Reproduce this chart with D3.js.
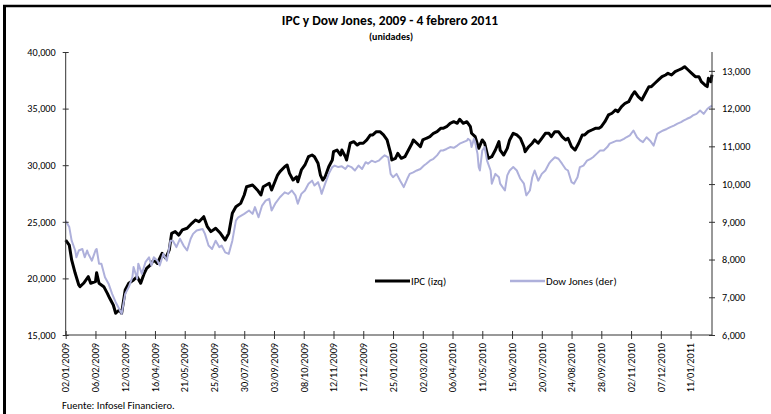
<!DOCTYPE html>
<html>
<head>
<meta charset="utf-8">
<script src="https://cdn.jsdelivr.net/npm/d3@7"></script>
<style>
  html, body { margin: 0; padding: 0; background: #fff; }
  svg { display: block; }
  text { font-family: Calibri, Carlito, Lato, "Liberation Sans", sans-serif; fill: #000; }
</style>
</head>
<body>
<svg id="chart" width="771" height="414"></svg>
<script>
// ---------- data ----------
const title = "IPC y Dow Jones, 2009 - 4 febrero 2011";
const subtitle = "(unidades)";
const source = "Fuente:  Infosel Financiero.";
const seriesNames = ["IPC (izq)", "Dow Jones (der)"];

// category (trading-day) labels, one every 25 trading days
const xLabels = ["02/01/2009","06/02/2009","12/03/2009","16/04/2009","21/05/2009","25/06/2009",
  "30/07/2009","03/09/2009","08/10/2009","12/11/2009","17/12/2009","25/01/2010","02/03/2010",
  "06/04/2010","11/05/2010","15/06/2010","20/07/2010","24/08/2010","28/09/2010","02/11/2010",
  "07/12/2010","11/01/2011"];
const labelStep = 25;      // trading days between labels
const nDays = 544;         // trading days 02/01/2009 - 04/02/2011

const leftTicks = [15000, 20000, 25000, 30000, 35000, 40000];
const rightTicks = [6000, 7000, 8000, 9000, 10000, 11000, 12000, 13000];
const leftDomain = [15000, 40000];
const rightDomain = [6000, 13500];

// IPC readings: trading-day number and value
const ipcDays = [0,3,5,8,11,12,15,19,21,25,26,28,32,35,37,40,42,45,47,50,
  53,57,60,63,66,68,71,74,77,81,84,87,89,92,95,98,102,106,109,112,
  116,119,122,126,130,134,137,140,143,147,150,152,157,161,164,166,171,173,178,180,
  184,186,188,191,194,195,198,201,204,207,209,212,214,216,218,221,224,225,228,231,
  232,235,236,239,242,245,247,250,253,256,258,261,264,267,270,273,274,277,279,282,
  285,288,291,292,295,298,300,303,306,309,312,315,317,320,323,326,329,331,334,337,
  340,341,344,347,350,352,355,358,361,364,365,368,371,373,376,379,382,385,386,389,
  392,394,397,400,403,406,408,411,414,417,420,422,425,428,431,434,436,439,442,445,
  448,450,453,456,459,462,464,467,470,473,476,478,481,484,487,490,492,495,498,501,
  504,506,509,512,515,518,520,523,526,529,532,534,537,539,540,542,543];
const ipcValues = [23390,22950,21630,20450,19420,19270,19570,20150,19570,19710,20500,19570,19270,18680,18240,17650,16920,17210,16920,18980,
  19570,19860,20150,19570,20450,20890,21180,21630,21330,22220,21780,22510,23980,24130,23830,24280,24430,24870,25160,25010,
  25450,24570,24130,24430,23980,23390,23980,25750,26330,26630,27370,28100,28250,27810,27370,28100,28400,27810,29130,29430,
  29870,30020,29280,28690,28980,28540,29580,30020,30750,30900,30750,30170,29130,28690,28980,29870,30460,31190,31340,30900,
  31340,30750,30460,31940,32080,31780,31940,31940,32230,32670,32670,32960,32960,32670,32230,31050,30460,30610,31050,30610,
  30750,31340,31940,32230,31940,31630,32230,32380,32520,32820,32960,33260,33260,33400,33700,33840,33700,34060,33700,33840,
  33400,32820,32520,31490,32230,31940,30610,30750,31340,32080,31340,30900,31490,32230,32820,32670,32380,31630,31190,31630,
  31940,32230,31940,32380,32820,32820,32520,32960,32960,32520,32230,32380,31630,31340,31940,32670,32670,32960,33110,33260,
  33260,33400,33840,34440,34590,34880,34730,35170,35470,35610,36200,36490,36050,35760,36350,36940,36940,37240,37530,37820,
  37970,38120,37970,38260,38410,38560,38700,38410,38120,37820,37820,37380,37090,36940,37680,37380,38000];

// Dow Jones readings: trading-day number and value
const dowDays = [0,3,5,8,9,11,14,16,18,19,22,25,26,28,30,33,36,39,42,45,
  47,50,53,56,57,60,61,64,67,70,72,74,77,79,82,85,88,90,93,96,
  99,102,105,107,110,115,117,120,123,126,129,131,134,137,140,143,145,150,154,157,
  159,162,165,168,171,173,176,180,184,187,190,193,195,198,201,204,207,209,212,214,
  215,218,221,224,226,229,232,235,237,240,243,246,249,252,254,257,260,263,266,268,
  271,273,275,278,281,284,287,289,292,295,298,301,303,306,309,312,315,317,320,323,
  326,329,331,334,337,338,340,341,343,344,346,347,348,350,352,354,357,358,361,364,
  365,369,371,373,376,379,382,385,387,390,392,394,397,400,403,406,408,411,414,417,
  420,422,425,427,430,432,435,438,441,443,446,449,452,455,457,460,463,466,469,471,
  474,477,480,483,485,488,491,494,497,499,502,505,508,511,514,517,519,522,525,527,
  530,533,536,539,541,543];
const dowValues = [9030,8860,8500,8240,8060,8240,8280,8060,8240,8150,7970,8240,8280,7890,7890,7530,7360,7090,6870,6690,
  6560,7090,7270,7530,7800,7490,7890,7620,7930,8060,7840,8060,7970,7840,8150,7970,8500,8500,8330,8550,
  8370,8240,8550,8680,8770,8810,8680,8370,8280,8500,8330,8370,8190,8150,8500,9030,9120,9210,9300,9210,
  9390,9120,9430,9560,9610,9300,9480,9650,9780,9740,9830,9700,9480,9740,9830,10010,10090,9960,10050,9870,
  9740,10010,10270,10450,10490,10450,10470,10400,10490,10450,10360,10490,10400,10580,10540,10620,10580,10620,10710,10760,
  10710,10270,10180,10270,10090,9920,10140,10270,10310,10360,10400,10490,10540,10620,10670,10760,10890,10890,10930,10980,
  10960,11020,11070,11110,11150,11200,11150,10980,11200,11110,10800,10450,10360,10890,10980,10620,10360,10010,10270,10180,
  10010,9830,10230,10360,10450,10360,10140,10010,9700,9830,10180,10360,10090,10270,10360,10540,10620,10710,10670,10540,
  10400,10360,10050,10010,10180,10450,10490,10620,10670,10710,10800,10890,10890,10980,11070,11110,11150,11150,11200,11240,
  11290,11420,11240,11150,11110,11240,11150,11020,11330,11370,11420,11460,11510,11550,11600,11640,11680,11730,11770,11820,
  11860,11950,11860,11990,12040,12080];

// ---------- layout ----------
const svg = d3.select("#chart");
const W = 771, H = 414;
const plot = { left: 65.7, right: 712, top: 52, bottom: 335 };
const fmt = d3.format(",");
const FONT = "Calibri, Carlito, Lato, 'Liberation Sans', sans-serif";

const x = d3.scaleLinear().domain([0, nDays - 1]).range([plot.left, plot.right]);
const yL = d3.scaleLinear().domain(leftDomain).range([plot.bottom, plot.top]);
const yR = d3.scaleLinear().domain(rightDomain).range([plot.bottom, plot.top]);

// outer frame
svg.append("line").attr("x1", 3).attr("x2", W).attr("y1", 6).attr("y2", 6)
  .attr("stroke", "#000").attr("stroke-width", 2.5);
svg.append("line").attr("x1", 4.5).attr("x2", 4.5).attr("y1", 5).attr("y2", H)
  .attr("stroke", "#000").attr("stroke-width", 3);

// titles
svg.append("text").attr("x", 390).attr("y", 25).attr("text-anchor", "middle")
  .attr("font-size", 13.5).attr("font-weight", "bold").text(title);
svg.append("text").attr("x", 391).attr("y", 40).attr("text-anchor", "middle")
  .attr("font-size", 10).attr("font-weight", "bold").text(subtitle);

// lines
const ipcData = ipcDays.map((d, i) => [d, ipcValues[i]]);
const dowData = dowDays.map((d, i) => [d, dowValues[i]]);
const lineIpc = d3.line().x(d => x(d[0])).y(d => yL(d[1]));
const lineDow = d3.line().x(d => x(d[0])).y(d => yR(d[1]));

svg.append("path").datum(ipcData).attr("d", lineIpc).attr("fill", "none")
  .attr("stroke", "#000").attr("stroke-width", 3).attr("stroke-linejoin", "round");
svg.append("path").datum(dowData).attr("d", lineDow).attr("fill", "none")
  .attr("stroke", "#aeb0db").attr("stroke-width", 2).attr("stroke-linejoin", "round");

// axes
const axisColor = "#333";
const gL = svg.append("g").attr("transform", `translate(${plot.left},0)`)
  .call(d3.axisLeft(yL).tickValues(leftTicks).tickFormat(fmt).tickSize(3).tickPadding(7));
const gR = svg.append("g").attr("transform", `translate(${plot.right},0)`)
  .call(d3.axisRight(yR).tickValues(rightTicks).tickFormat(fmt).tickSize(3).tickPadding(7));
const gX = svg.append("g").attr("transform", `translate(0,${plot.bottom})`)
  .call(d3.axisBottom(x).tickValues(xLabels.map((d, i) => i * labelStep))
    .tickFormat((d, i) => xLabels[i]).tickSize(4).tickPadding(8));

[gL, gR, gX].forEach(g => {
  g.select(".domain").attr("stroke", axisColor);
  g.selectAll(".tick line").attr("stroke", axisColor);
  g.selectAll("text").attr("font-size", 10.2).attr("fill", "#000").style("font-family", FONT);
});
gL.select(".domain").attr("d", `M0,${plot.top}V${plot.bottom}`);
gR.select(".domain").attr("d", `M0,${plot.top}V${plot.bottom}`);
gX.select(".domain").attr("d", `M${plot.left},0H${plot.right}`);
// crossing tick marks
gL.selectAll(".tick line").attr("x1", 3).attr("x2", -3);
gR.selectAll(".tick line").attr("x1", -3).attr("x2", 3);
gX.selectAll(".tick line").attr("y1", -4).attr("y2", 4);

gX.selectAll(".tick text")
  .attr("transform", "rotate(-90)")
  .attr("text-anchor", "end")
  .attr("dy", "0.32em")
  .attr("x", -8).attr("y", 0);

// legend
const legend = [
  { name: seriesNames[0], color: "#000", w: 3, x: 375 },
  { name: seriesNames[1], color: "#aeb0db", w: 2.5, x: 510 }
];
const lg = svg.append("g");
legend.forEach(l => {
  lg.append("line").attr("x1", l.x).attr("x2", l.x + 35).attr("y1", 281).attr("y2", 281)
    .attr("stroke", l.color).attr("stroke-width", l.w);
  lg.append("text").attr("x", l.x + 36).attr("y", 285).attr("font-size", 10.8).text(l.name);
});

// source
svg.append("text").attr("x", 62).attr("y", 409).attr("font-size", 10.5).text(source);
</script>
</body>
</html>
